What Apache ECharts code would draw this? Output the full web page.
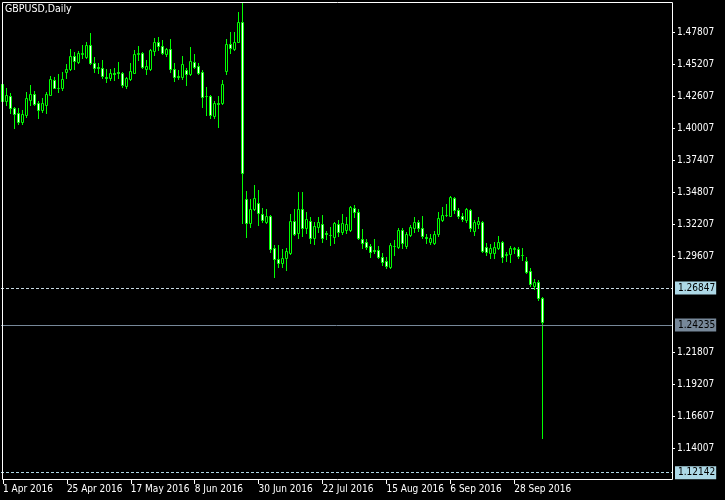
<!DOCTYPE html>
<html>
<head>
<meta charset="utf-8">
<script src="https://cdn.jsdelivr.net/npm/echarts@6/dist/echarts.min.js"></script>
<style>html,body{margin:0;padding:0;background:#000;}#c{width:725px;height:500px;}</style>
</head>
<body>
<div id="c"></div>
<script>
// ---- data ----
var opens = [1.4358,1.4218,1.4258,1.4161,1.4125,1.4052,1.4106,1.4231,1.4277,1.4206,1.4149,1.4188,1.4269,1.4388,1.4323,1.4323,1.4458,1.4478,1.4586,1.4539,1.4604,1.4580,1.4675,1.4531,1.4494,1.4491,1.4415,1.4404,1.4448,1.4453,
1.4445,1.4344,1.4396,1.4450,1.4604,1.4608,1.4482,1.4478,1.4629,1.4697,1.4664,1.4602,1.4640,1.4478,1.4421,1.4417,1.4472,1.4437,1.4534,1.4504,
1.4458,1.4263,1.4261,1.4098,1.4204,1.4201,1.4466,1.4681,1.4643,1.4702,1.4864,1.3421,1.3226,1.3340,1.3389,1.3300,1.3239,1.3286,1.3028,1.2934,
1.2901,1.2947,1.2983,1.3245,1.3145,1.3340,1.3186,1.3248,1.3104,1.3199,1.3218,1.3148,1.3134,1.3118,1.3218,1.3158,1.3172,1.3172,1.3348,1.3320,
1.3096,1.3072,1.3042,1.3007,1.3009,1.2950,1.2922,1.2874,1.3044,1.3034,1.3172,1.3038,1.3131,1.3191,1.3235,1.3191,1.3118,1.3077,1.3069,1.3137,
1.3253,1.3291,1.3288,1.3430,1.3334,1.3288,1.3253,1.3334,1.3164,1.3218,1.3235,1.3031,1.2987,1.2987,1.3023,1.3072,1.2966,1.2975,1.3020,1.3015,
1.2971,1.2920,1.2839,1.2719,1.2747,1.2617];
var highs = [1.4370,1.4323,1.4283,1.4174,1.4161,1.4147,1.4296,1.4350,1.4301,1.4220,1.4242,1.4296,1.4423,1.4413,1.4437,1.4453,1.4518,1.4643,1.4621,1.4626,1.4675,1.4697,1.4775,1.4578,1.4526,1.4553,1.4480,1.4478,1.4491,1.4534,
1.4458,1.4417,1.4526,1.4634,1.4667,1.4621,1.4553,1.4640,1.4730,1.4738,1.4716,1.4653,1.4721,1.4526,1.4472,1.4586,1.4486,1.4661,1.4602,1.4531,
1.4472,1.4331,1.4269,1.4223,1.4261,1.4391,1.4721,1.4783,1.4778,1.4946,1.5020,1.3489,1.3424,1.3538,1.3497,1.3348,1.3340,1.3294,1.3050,1.3050,
1.3015,1.3023,1.3302,1.3340,1.3483,1.3483,1.3321,1.3280,1.3239,1.3280,1.3294,1.3164,1.3199,1.3239,1.3253,1.3302,1.3280,1.3367,1.3375,1.3340,
1.3178,1.3099,1.3058,1.3099,1.3042,1.2987,1.2950,1.3066,1.3091,1.3186,1.3186,1.3158,1.3213,1.3280,1.3253,1.3286,1.3137,1.3137,1.3164,1.3316,
1.3361,1.3381,1.3451,1.3442,1.3348,1.3308,1.3348,1.3343,1.3253,1.3280,1.3245,1.3064,1.3056,1.3072,1.3123,1.3083,1.2996,1.3044,1.3036,1.3036,
1.3023,1.2955,1.2861,1.2774,1.2766,1.2630];
var lows = [1.4212,1.4188,1.4120,1.4003,1.4031,1.4033,1.4093,1.4188,1.4188,1.4084,1.4133,1.4125,1.4265,1.4323,1.4296,1.4307,1.4404,1.4472,1.4478,1.4526,1.4567,1.4572,1.4523,1.4458,1.4445,1.4404,1.4372,1.4391,1.4391,1.4404,
1.4336,1.4328,1.4391,1.4445,1.4553,1.4486,1.4439,1.4472,1.4594,1.4634,1.4602,1.4586,1.4458,1.4385,1.4396,1.4396,1.4350,1.4431,1.4486,1.4439,
1.4169,1.4106,1.4080,1.4080,1.4011,1.4196,1.4439,1.4613,1.4634,1.4697,1.3226,1.3118,1.3199,1.3334,1.3213,1.3239,1.3226,1.2996,1.2792,1.2874,
1.2874,1.2847,1.2977,1.3131,1.3104,1.3126,1.3145,1.3069,1.3058,1.3158,1.3077,1.3096,1.3050,1.3069,1.3123,1.3139,1.3145,1.3164,1.3280,1.3096,
1.3028,1.3015,1.2955,1.2983,1.2942,1.2888,1.2867,1.2867,1.2969,1.3026,1.3023,1.3028,1.3123,1.3158,1.3164,1.3109,1.3064,1.3056,1.3056,1.3126,
1.3245,1.3288,1.3286,1.3308,1.3272,1.3245,1.3239,1.3164,1.3131,1.3191,1.2996,1.2969,1.2947,1.2942,1.3018,1.2914,1.2920,1.2914,1.2983,1.2947,
1.2928,1.2820,1.2719,1.2693,1.2603,1.1482];
var closes = [1.4220,1.4266,1.4161,1.4117,1.4052,1.4117,1.4247,1.4277,1.4198,1.4149,1.4204,1.4277,1.4399,1.4328,1.4322,1.4396,1.4480,1.4586,1.4543,1.4608,1.4610,1.4675,1.4531,1.4491,1.4488,1.4426,1.4404,1.4445,1.4442,1.4445,
1.4350,1.4404,1.4464,1.4600,1.4610,1.4499,1.4504,1.4634,1.4697,1.4669,1.4613,1.4640,1.4478,1.4413,1.4413,1.4518,1.4439,1.4545,1.4499,1.4450,
1.4250,1.4258,1.4106,1.4201,1.4198,1.4356,1.4681,1.4653,1.4702,1.4864,1.3633,1.3226,1.3340,1.3430,1.3308,1.3253,1.3286,1.3018,1.2934,1.2901,
1.2942,1.3001,1.3245,1.3139,1.3340,1.3186,1.3259,1.3104,1.3204,1.3235,1.3109,1.3142,1.3129,1.3226,1.3158,1.3226,1.3218,1.3356,1.3320,1.3104,
1.3064,1.3036,1.2996,1.3001,1.2955,1.2914,1.2882,1.3050,1.3040,1.3172,1.3069,1.3137,1.3199,1.3235,1.3191,1.3123,1.3107,1.3109,1.3137,1.3267,
1.3294,1.3296,1.3442,1.3334,1.3288,1.3261,1.3343,1.3191,1.3235,1.3245,1.3001,1.2996,1.3023,1.3036,1.3072,1.2955,1.2977,1.3028,1.3026,1.2961,
1.2966,1.2828,1.2731,1.2752,1.2617,1.24235];

var xTickLabels = ['1 Apr 2016','25 Apr 2016','17 May 2016','8 Jun 2016','30 Jun 2016','22 Jul 2016','15 Aug 2016','6 Sep 2016','28 Sep 2016'];
var yTickLabels = [1.14007,1.16607,1.19207,1.21807,1.29607,1.32207,1.34807,1.37407,1.40007,1.42607,1.45207,1.47807];
var levelValues = [1.26847, 1.24235, 1.12142];
var levelKinds = ['dash', 'bid', 'dash2'];
var title = 'GBPUSD,Daily';

// ---- categories: trading days from 1 Apr 2016 (plus empty future slots) ----
var MONTHS = ['Jan','Feb','Mar','Apr','May','Jun','Jul','Aug','Sep','Oct','Nov','Dec'];
var categories = [];
var d = new Date(Date.UTC(2016,3,1));
var TOTAL_SLOTS = 168;
while (categories.length < TOTAL_SLOTS) {
  var wd = d.getUTCDay();
  if (wd !== 0 && wd !== 6) {
    categories.push(d.getUTCDate() + ' ' + MONTHS[d.getUTCMonth()] + ' ' + d.getUTCFullYear());
  }
  d = new Date(d.getTime() + 86400000);
}

var candleData = opens.map(function(o, i){ return [i, o, closes[i], lows[i], highs[i]]; });

var FONT = "'DejaVu Sans Condensed','Liberation Sans Narrow','Liberation Sans',sans-serif";
var GREEN = '#00ff00';

function showTick(idx, val) { return xTickLabels.indexOf(val) >= 0; }

var levelStyles = {
  dash:  {line:{type:[3,2], color:'#c9dbe4', width:1}, bg:'#add8e6'},
  bid:   {line:{type:'solid', color:'#778899', width:1}, bg:'#778899'},
  dash2: {line:{type:[3,2], color:'#add8e6', width:1}, bg:'#add8e6'}
};

function renderCandle(params, api) {
  var idx = api.value(0);
  var o = api.value(1), c = api.value(2), l = api.value(3), h = api.value(4);
  var pO = api.coord([idx, o]), pC = api.coord([idx, c]);
  var pL = api.coord([idx, l]), pH = api.coord([idx, h]);
  var cx = Math.floor(pO[0]);
  var yT = Math.round(Math.min(pO[1], pC[1]));
  var yB = Math.round(Math.max(pO[1], pC[1]));
  var yH = Math.round(pH[1]);
  var yL = Math.round(pL[1]);
  var bear = c < o;
  return {
    type: 'group',
    children: [
      {type:'line', shape:{x1:cx+0.5, y1:yH, x2:cx+0.5, y2:yL+1},
       style:{stroke: GREEN, lineWidth:1}},
      {type:'rect', shape:{x:cx-0.5, y:yT+0.5, width:2, height:Math.max(yB-yT,0)},
       style:{fill: bear ? '#ffffff' : '#000000', stroke: GREEN, lineWidth:1}}
    ]
  };
}

var chart = echarts.init(document.getElementById('c'), null, {renderer:'canvas'});
chart.setOption({
  animation: false,
  backgroundColor: '#000',
  title: {
    text: title, left: 5, top: 4, padding: 0,
    textStyle: {color:'#fff', fontSize: 10.5, fontWeight:'normal', fontFamily: FONT}
  },
  grid: {left: 0, right: 53, top: 2, bottom: 20, containLabel: false},
  xAxis: {
    type: 'category',
    data: categories,
    boundaryGap: true,
    axisLine: {show: false},
    axisTick: {show: true, alignWithLabel: true, interval: showTick, length: 4, lineStyle:{color:'#fff'}},
    axisLabel: {interval: showTick, align: 'left', color:'#fff', fontSize: 10, margin: 4, fontFamily: FONT},
    splitLine: {show:false}
  },
  yAxis: {
    type: 'value',
    position: 'right',
    min: 1.11407,
    max: 1.50245,
    scale: true,
    axisLine: {show:false},
    axisTick: {show:true, customValues: yTickLabels, length: 3, lineStyle:{color:'#fff'}},
    axisLabel: {customValues: yTickLabels, color:'#fff', fontSize: 10, margin: 5, fontFamily: FONT,
      formatter: function(v){ return v.toFixed(5); }},
    splitLine: {show:false}
  },
  graphic: [{
    type: 'rect', silent: true, z: 100,
    shape: {x: 2.5, y: 2.5, width: 670, height: 477},
    style: {fill: 'none', stroke: '#fff', lineWidth: 1}
  }],
  series: [{
    type: 'custom',
    renderItem: renderCandle,
    data: candleData,
    encode: {x: 0, y: [1, 2, 3, 4]},
    clip: true,
    markLine: {
      silent: true, symbol: 'none', animation: false,
      data: levelValues.map(function(v, i){
        var st = levelStyles[levelKinds[i]];
        return {
          yAxis: v,
          lineStyle: st.line,
          label: {
            show: true, position: 'end', distance: 3,
            formatter: v.toFixed(5),
            backgroundColor: st.bg, color: '#000', fontSize: 10, fontFamily: FONT,
            padding: [2, 1, 1, 3]
          }
        };
      })
    }
  }]
});
</script>
</body>
</html>
